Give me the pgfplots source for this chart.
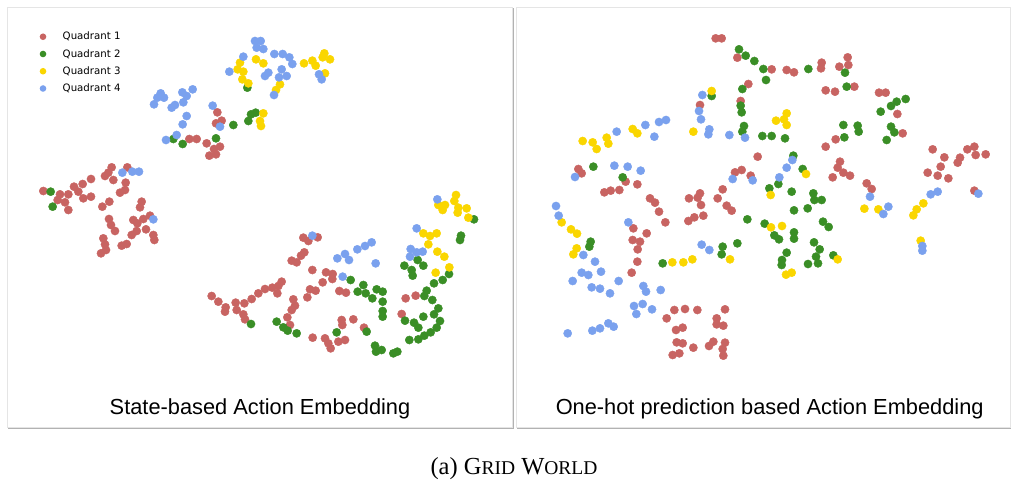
\documentclass[border=0pt]{standalone}
\usepackage{fontspec}
\setmainfont{Liberation Serif}
\newfontfamily\lgfont{DejaVu Sans}
\newfontfamily\ttlfont{Liberation Sans}
\usepackage{pgfplots}
\pgfplotsset{compat=1.18}
\definecolor{qred}{RGB}{200,100,98}
\definecolor{qgreen}{RGB}{58,142,38}
\definecolor{qyellow}{RGB}{250,214,0}
\definecolor{qblue}{RGB}{122,161,238}
\pgfplotsset{
  panel/.style={scale only axis, hide axis, y dir=reverse, ymin=0, ymax=1320, height=440pt, clip=false},
  q/.style={only marks, mark=*, mark size=4.1pt, color=#1, mark options={draw=none, fill=#1},
    legend image code/.code={\fill[#1, draw=none] (3.3pt,0pt) circle (3.3pt); \path[draw=none, fill=none] (0pt,-3pt) (21pt,3pt);}},
}
\begin{document}
\begin{tikzpicture}
\path[use as bounding box] (0,0) rectangle (1011pt,485pt);
\fill[white] (0,0) rectangle (1011pt,485pt);
% panel frames with shadow
\fill[black!30] (8.0pt,56.0pt) rectangle (513.6pt,476.5pt);
\filldraw[fill=white, draw=black!10, line width=0.5pt] (7.3pt,57.8pt) rectangle (512.7pt,477.7pt);
\fill[black!30] (517.4pt,56.0pt) rectangle (1011pt,476.5pt);
\filldraw[fill=white, draw=black!10, line width=0.5pt] (516.7pt,57.8pt) rectangle (1010pt,477.7pt);

\begin{axis}[panel, at={(0pt,485pt)}, anchor=north west, width=520pt, xmin=0, xmax=1560,
  legend style={at={(axis description cs:0.0760,0.932)}, anchor=north west, draw=none, fill=none,
    font=\lgfont\fontsize{10.2}{11}\selectfont, row sep=4.0pt, inner sep=0pt, cells={anchor=west}}]
\addplot[q=qred] coordinates {
(652,337)(648,370)(665,362)(568,417)(590,417)(620,430)(642,447)(660,440)(628,467)(648,463)
(130,573)(180,583)(173,600)(195,607)(205,630)(205,583)(222,560)(235,575)(248,552)(273,537)(250,595)(273,590)(315,528)(325,518)(335,502)(340,540)(382,502)(377,548)(375,570)(360,578)(328,605)(307,620)(425,605)(420,622)(327,657)(333,675)(345,693)(400,660)(412,670)(430,657)(450,647)(438,688)(395,705)(410,693)(460,705)(463,720)(310,715)(315,733)(318,750)(303,760)(365,737)(380,732)
(910,713)(925,723)(953,712)(913,757)(903,767)(890,787)(875,782)(937,810)(978,817)(998,822)(997,837)(968,847)(930,868)(947,872)(922,892)(1018,873)(1038,878)(845,845)(835,858)(817,863)(795,867)(775,880)(755,897)(733,910)(707,908)(677,922)(675,935)(655,905)(635,888)(710,930)(730,943)(735,958)(832,880)(880,898)(885,917)(875,930)(862,952)(870,975)(938,1013)(975,1015)(985,1030)(992,1045)(1015,1025)(1035,1020)(1025,960)(1027,975)(1060,958)(1092,983)(1217,895)(1247,887)(1205,942)
};
\addlegendentry{Quadrant 1}
\addplot[q=qgreen] coordinates {
(742,263)(753,343)(767,338)(745,363)(700,375)(520,417)(548,432)(648,415)(152,575)(158,620)
(753,972)(830,965)(850,982)(863,992)(890,1000)(1010,997)(1100,995)(1052,840)(1090,855)(1073,875)(1097,880)(1130,868)(1148,875)(1117,895)(1148,905)(1148,933)(1148,950)(1125,1037)(1128,1055)(1145,1050)(1180,1060)(1192,1055)
(1422,658)(1383,707)(1380,720)(1253,780)(1213,797)(1235,810)(1238,827)(1270,797)(1347,822)(1328,840)(1302,850)(1280,872)(1273,888)(1297,900)(1315,925)(1302,943)(1320,963)(1310,983)(1292,997)(1273,1007)(1255,1018)(1228,1020)(1270,950)(1242,968)(1255,983)(1215,962)
};
\addlegendentry{Quadrant 2}
\addplot[q=qyellow] coordinates {
(720,188)(768,178)(790,190)(713,208)(730,215)(727,238)(745,250)(912,190)(937,182)(947,197)(968,172)(973,160)(990,178)(975,220)(840,253)(828,270)(790,340)(780,363)(783,378)
(1368,585)(1363,603)(1315,615)(1335,615)(1328,630)(1375,623)(1373,638)(1400,625)(1405,653)(1270,700)(1290,708)(1310,700)(1285,733)(1312,755)(1333,770)(1348,802)(1307,818)
};
\addlegendentry{Quadrant 3}
\addplot[q=qblue] coordinates {
(765,123)(782,123)(770,143)(790,147)(730,170)(823,162)(848,162)(868,172)(877,192)(688,215)(845,208)(805,218)(795,228)(837,232)(860,228)(822,285)(957,223)(965,238)
(482,280)(492,293)(472,293)(462,313)(547,277)(560,288)(578,268)(550,307)(525,315)(515,323)(560,348)(548,373)(638,317)(660,380)(498,420)(530,405)
(367,518)(397,515)(417,515)(460,658)
(937,707)(1012,775)(1035,762)(1047,780)(1072,748)(1095,738)(1115,727)(1127,790)(1028,830)
(1312,598)(1250,685)(1232,747)(1250,757)(1268,755)(1230,770)
};
\addlegendentry{Quadrant 4}
\node[font=\ttlfont\fontsize{21.8}{24}\selectfont, anchor=base] at (axis cs:780,1243) {State-based Action Embedding};
\end{axis}

\begin{axis}[panel, at={(510pt,485pt)}, anchor=north west, width=501pt, xmin=0, xmax=1503]
\addplot[q=qred] coordinates {
(617,115)(635,115)(682,173)(785,208)(715,252)(692,303)(570,315)(743,470)(205,507)(215,520)(675,517)(695,510)(722,527)(347,545)(382,553)(283,577)(302,572)(328,570)(638,568)(570,580)(563,593)(537,595)(623,595)(420,595)
(830,210)(852,217)(935,188)(933,205)(988,200)(1013,172)(1015,195)(947,271)(975,275)(1033,260)(1107,278)(1127,278)(1162,342)(1178,400)(977,418)(947,440)(990,485)(983,503)(1000,518)(1020,527)(968,532)(1070,550)(1085,567)(1268,448)(1303,472)(1292,500)(1253,518)(1283,527)(1315,535)(1350,473)(1343,488)(1372,448)(1393,440)(1397,465)(1427,463)(1393,572)
(435,608)(447,635)(466,667)(573,615)(580,647)(553,652)(535,663)(650,617)(665,632)
(370,685)(368,720)(390,725)(410,700)(383,748)(382,785)(365,818)
(493,930)(525,927)(562,930)(470,955)(498,990)(518,983)(500,1027)(518,1030)(550,1043)(488,1065)(508,1060)(645,928)(620,955)(620,973)(640,977)(645,1028)(638,1047)(640,1067)(597,1038)(610,1025)
};
\addplot[q=qgreen] coordinates {
(687,148)(707,167)(733,183)(760,207)(768,240)(697,267)(605,288)(692,317)(695,337)(702,378)(697,395)(757,408)(785,408)(250,500)(338,532)(778,565)(805,552)
(895,207)(1005,218)(1010,260)(1160,305)(1143,318)(1187,297)(1112,335)(1000,375)(1043,377)(1046,395)(1003,412)(1143,380)(1153,397)(1130,420)(825,415)(850,467)(878,507)(845,575)(910,580)(913,600)(935,600)
(242,725)(238,740)(458,790)(638,740)(635,763)(682,730)(712,658)(764,671)(793,706)(807,718)
(852,631)(893,625)(852,697)(852,716)(912,727)(929,748)(939,665)(956,681)(830,758)(816,780)(815,795)(918,770)(924,790)(894,792)(970,766)
};
\addplot[q=qyellow] coordinates {
(605,273)(798,362)(822,358)(830,340)(830,375)(218,423)(248,427)(260,447)(290,413)(295,431)(368,387)(382,400)(550,395)(888,522)(782,585)
(155,667)(183,688)(201,701)(200,745)(190,763)(487,787)(520,787)(547,778)(660,778)(783,682)(816,678)(983,778)(828,824)(845,818)(1063,626)(1105,628)(1240,610)(1220,628)(1210,646)(1232,722)
};
\addplot[q=qblue] coordinates {
(577,285)(567,333)(573,358)(598,388)(595,403)(658,405)(705,413)(320,395)(406,375)(433,410)(447,366)(468,360)(195,531)(313,497)(353,500)(392,512)(668,537)(728,541)(808,532)(847,480)(830,503)
(1080,590)(1262,583)(1283,575)(1405,581)(1135,620)(1120,642)(1237,738)(1237,752)
(138,618)(146,647)(355,667)(220,765)(255,785)(273,815)(215,818)(235,825)(188,843)(245,862)(270,866)(300,880)(326,843)(400,858)(408,875)(452,870)(372,918)(398,912)(426,928)(379,942)(173,1000)(247,992)(270,985)(295,970)(311,980)(575,734)(598,750)
};
\node[font=\ttlfont\fontsize{21.8}{24}\selectfont, anchor=base] at (axis cs:779,1243) {One-hot prediction based Action Embedding};
\end{axis}

\node[font=\fontsize{24.5}{28}\selectfont, anchor=base] at (514pt,11pt) {(a) G{\fontsize{19.5}{22}\selectfont RID} W{\fontsize{19.5}{22}\selectfont ORLD}};
\end{tikzpicture}
\end{document}
